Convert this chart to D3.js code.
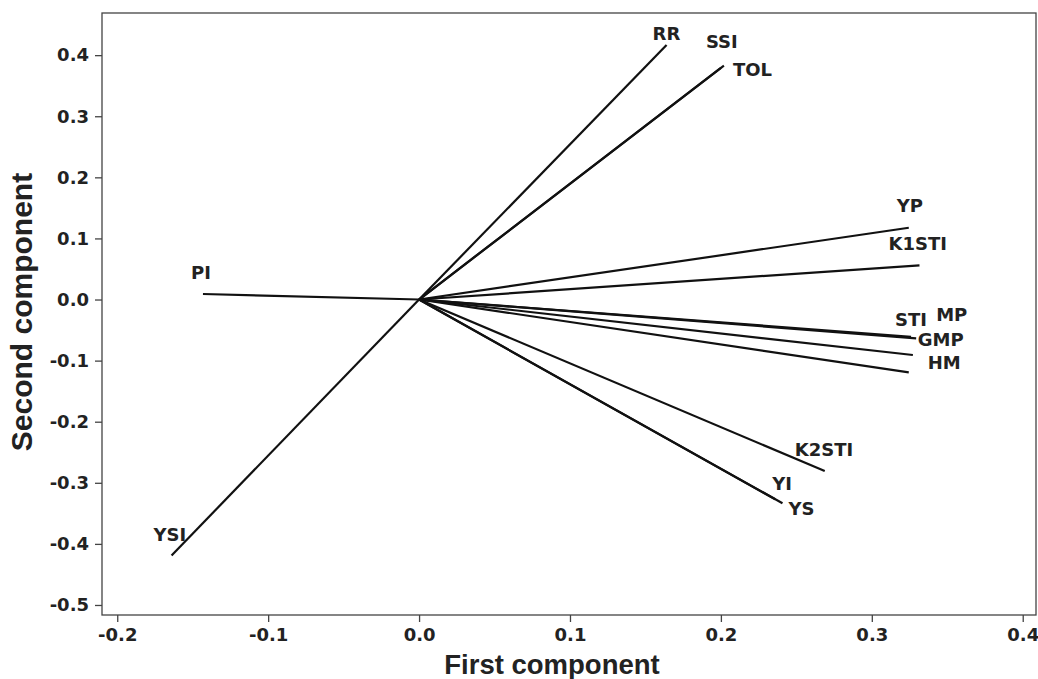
<!DOCTYPE html>
<html>
<head>
<meta charset="utf-8">
<script src="https://cdn.jsdelivr.net/npm/d3@7"></script>
<style>
  body { margin: 0; background: #fff; }
  .tick text { font-family: "DejaVu Sans", Verdana, sans-serif; font-weight: bold; font-size: 18px; fill: #222; }
  .tick line { stroke: #444; stroke-width: 1.3; }
  .lbl { font-family: "DejaVu Sans", Verdana, sans-serif; font-weight: bold; font-size: 18px; fill: #222; }
  .title { font-family: "Liberation Sans", Arial, sans-serif; font-weight: bold; fill: #222; }
</style>
</head>
<body>
<div id="chart"></div>
<script>
// loading vectors
var variables = ["RR", "SSI", "TOL", "YP", "K1STI", "STI", "MP", "GMP", "HM", "K2STI", "YI", "YS", "PI", "YSI"];
var pc1 = [0.164, 0.200, 0.202, 0.3245, 0.3316, 0.326, 0.3294, 0.3272, 0.3245, 0.2688, 0.236, 0.2408, -0.1432, -0.164];
var pc2 = [0.4165, 0.379, 0.3827, 0.1175, 0.056, -0.061, -0.0635, -0.0908, -0.1193, -0.2807, -0.327, -0.3336, 0.009, -0.419];

var xTicks = [-0.2, -0.1, 0.0, 0.1, 0.2, 0.3, 0.4];
var yTicks = [0.4, 0.3, 0.2, 0.1, 0.0, -0.1, -0.2, -0.3, -0.4, -0.5];

// where each name sits relative to the end of its line (pixels)
var labelNudge = {
  "RR": [-14, -12], "SSI": [-15, -26], "TOL": [9, 4], "YP": [-12, -22],
  "K1STI": [-31, -22], "STI": [-16, -17], "MP": [20, -24], "GMP": [5, -15],
  "HM": [19, -10], "K2STI": [-30, -21], "YI": [-3, -16], "YS": [6, 5],
  "PI": [-12, -22], "YSI": [-18, -21]
};

var width = 1038, height = 679;
var margin = {top: 13, right: 2, bottom: 64, left: 102};
var w = width - margin.left - margin.right;
var h = height - margin.top - margin.bottom;

var svg = d3.select("#chart").append("svg")
    .attr("width", width)
    .attr("height", height);

var g = svg.append("g")
    .attr("transform", "translate(" + margin.left + "," + margin.top + ")");

var x = d3.scaleLinear().domain([-0.2101, 0.4088]).range([0, w]);
var y = d3.scaleLinear().domain([-0.5164, 0.469]).range([h, 0]);

var fmt = function(d) { return d3.format(".1f")(d).replace("\u2212", "-"); };

// axes
var xAxis = g.append("g")
    .attr("transform", "translate(0," + h + ")")
    .call(d3.axisBottom(x).tickValues(xTicks).tickFormat(fmt).tickSize(7).tickPadding(6));
var yAxis = g.append("g")
    .call(d3.axisLeft(y).tickValues(yTicks).tickFormat(fmt).tickSize(7).tickPadding(6));
xAxis.select(".domain").remove();
yAxis.select(".domain").remove();

// frame
g.append("rect")
    .attr("width", w)
    .attr("height", h)
    .attr("fill", "none")
    .attr("stroke", "#444")
    .attr("stroke-width", 1.3);

// vectors from the origin
var rows = variables.map(function(v, i) { return {name: v, a: pc1[i], b: pc2[i]}; });

g.selectAll("line.vec")
    .data(rows)
  .enter().append("line")
    .attr("class", "vec")
    .attr("x1", x(0))
    .attr("y1", y(0))
    .attr("x2", function(d) { return x(d.a); })
    .attr("y2", function(d) { return y(d.b); })
    .attr("stroke", "#111")
    .attr("stroke-width", 2.2);

g.selectAll("text.lbl")
    .data(rows)
  .enter().append("text")
    .attr("class", "lbl")
    .attr("x", function(d) { return x(d.a) + labelNudge[d.name][0]; })
    .attr("y", function(d) { return y(d.b) + labelNudge[d.name][1]; })
    .attr("dy", "0.36em")
    .text(function(d) { return d.name; });

// axis titles
svg.append("text")
    .attr("class", "title")
    .attr("x", 552)
    .attr("y", 674)
    .attr("text-anchor", "middle")
    .style("font-size", "27.5px")
    .text("First component");

svg.append("text")
    .attr("class", "title")
    .attr("transform", "translate(32,312) rotate(-90)")
    .attr("text-anchor", "middle")
    .style("font-size", "30px")
    .text("Second component");
</script>
</body>
</html>
